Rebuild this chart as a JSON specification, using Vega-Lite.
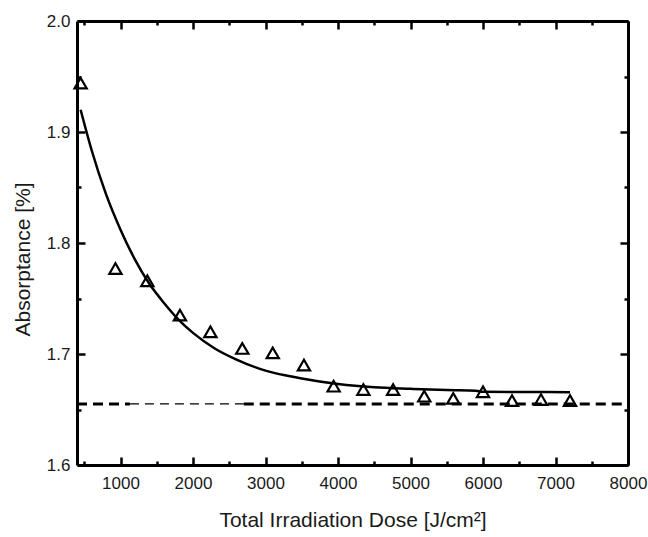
{
  "$schema": "https://vega.github.io/schema/vega-lite/v6.json",
  "width": 551,
  "height": 444,
  "autosize": {"type": "none"},
  "padding": {"left": 77, "top": 21, "right": 20, "bottom": 72},
  "background": "white",
  "config": {
    "view": {"stroke": null},
    "font": "Liberation Sans",
    "axis": {"grid": false, "domainColor": "black", "domainWidth": 3, "tickColor": "black", "tickWidth": 2.5, "labelColor": "#1a1a1a", "titleColor": "#1a1a1a", "labelFont": "Liberation Sans", "titleFont": "Liberation Sans", "labelFontSize": 17, "titleFontSize": 21, "titleFontWeight": "normal"}
  },
  "datasets": {
    "meas": [
      {"dose": 450, "abs": 1.944},
      {"dose": 930, "abs": 1.777},
      {"dose": 1370, "abs": 1.766},
      {"dose": 1820, "abs": 1.735},
      {"dose": 2240, "abs": 1.720},
      {"dose": 2680, "abs": 1.705},
      {"dose": 3100, "abs": 1.701},
      {"dose": 3530, "abs": 1.690},
      {"dose": 3940, "abs": 1.671},
      {"dose": 4350, "abs": 1.668},
      {"dose": 4760, "abs": 1.668},
      {"dose": 5190, "abs": 1.662},
      {"dose": 5590, "abs": 1.660},
      {"dose": 6000, "abs": 1.666},
      {"dose": 6400, "abs": 1.658},
      {"dose": 6800, "abs": 1.659},
      {"dose": 7200, "abs": 1.658}
    ],
    "fit": [
      {"dose": 450, "abs": 1.920},
      {"dose": 600, "abs": 1.884},
      {"dose": 800, "abs": 1.844},
      {"dose": 1000, "abs": 1.812},
      {"dose": 1200, "abs": 1.785},
      {"dose": 1400, "abs": 1.763},
      {"dose": 1600, "abs": 1.746},
      {"dose": 1800, "abs": 1.731},
      {"dose": 2000, "abs": 1.719},
      {"dose": 2300, "abs": 1.705},
      {"dose": 2600, "abs": 1.695},
      {"dose": 3000, "abs": 1.685},
      {"dose": 3500, "abs": 1.678},
      {"dose": 4000, "abs": 1.673},
      {"dose": 4500, "abs": 1.670},
      {"dose": 5000, "abs": 1.6686},
      {"dose": 5500, "abs": 1.6675},
      {"dose": 5900, "abs": 1.667},
      {"dose": 6000, "abs": 1.666},
      {"dose": 6500, "abs": 1.6658},
      {"dose": 7200, "abs": 1.6656}
    ],
    "base": [
      {"from": 400, "to": 1130, "abs": 1.655, "kind": "thick"},
      {"from": 1130, "to": 2700, "abs": 1.655, "kind": "thin"},
      {"from": 2700, "to": 8000, "abs": 1.655, "kind": "thick"}
    ]
  },
  "resolve": {"axis": {"x": "independent", "y": "independent"}},
  "layer": [
    {
      "data": {"name": "meas"},
      "mark": {"type": "point", "shape": "triangle-up", "filled": false, "stroke": "black", "strokeWidth": 2.2, "size": 150, "opacity": 1},
      "encoding": {
        "x": {"field": "dose", "type": "quantitative", "scale": {"domain": [400, 8000], "nice": false, "zero": false},
          "axis": {"orient": "bottom", "title": "Total Irradiation Dose [J/cm²]", "values": [500,1000,1500,2000,2500,3000,3500,4000,4500,5000,5500,6000,6500,7000,7500,8000],
            "labelExpr": "datum.value % 1000 === 0 ? datum.label : ''", "format": "d",
            "tickSize": {"condition": {"test": "datum.value % 1000 === 0", "value": -8}, "value": -4},
            "labelPadding": 18, "titlePadding": 14, "labelFlush": false, "labelOverlap": false}},
        "y": {"field": "abs", "type": "quantitative", "scale": {"domain": [1.6, 2.0], "nice": false, "zero": false},
          "axis": {"orient": "left", "title": "Absorptance [%]", "values": [1.6,1.65,1.7,1.75,1.8,1.85,1.9,1.95,2.0],
            "labelExpr": "abs(datum.value*10 - round(datum.value*10)) < 0.001 ? format(datum.value, '.1f') : ''",
            "tickSize": {"condition": {"test": "abs(datum.value*10 - round(datum.value*10)) < 0.001", "value": -8}, "value": -4},
            "labelPadding": 15, "labelFlush": false, "labelOverlap": false, "titleAngle": -90, "titleX": -54, "titleY": 238, "titleAlign": "center", "titleBaseline": "middle"}}
      }
    },
    {
      "data": {"name": "fit"},
      "mark": {"type": "line", "color": "black", "strokeWidth": 2.5, "interpolate": "monotone"},
      "encoding": {
        "x": {"field": "dose", "type": "quantitative",
          "axis": {"orient": "top", "title": null, "labels": false, "values": [500,1000,1500,2000,2500,3000,3500,4000,4500,5000,5500,6000,6500,7000,7500,8000],
            "tickSize": {"condition": {"test": "datum.value % 1000 === 0", "value": -8}, "value": -4}}},
        "y": {"field": "abs", "type": "quantitative",
          "axis": {"orient": "right", "title": null, "labels": false, "values": [1.6,1.65,1.7,1.75,1.8,1.85,1.9,1.95,2.0],
            "tickSize": {"condition": {"test": "abs(datum.value*10 - round(datum.value*10)) < 0.001", "value": -8}, "value": -4}}}
      }
    },
    {
      "data": {"name": "base"},
      "transform": [{"filter": "datum.kind === 'thick'"}],
      "mark": {"type": "rule", "color": "black", "strokeWidth": 3, "strokeDash": [10, 6]},
      "encoding": {
        "x": {"field": "from", "type": "quantitative", "axis": null},
        "x2": {"field": "to"},
        "y": {"field": "abs", "type": "quantitative", "axis": null}
      }
    },
    {
      "data": {"name": "base"},
      "transform": [{"filter": "datum.kind === 'thin'"}],
      "mark": {"type": "rule", "color": "black", "strokeWidth": 1.3, "strokeDash": [9, 6]},
      "encoding": {
        "x": {"field": "from", "type": "quantitative", "axis": null},
        "x2": {"field": "to"},
        "y": {"field": "abs", "type": "quantitative", "axis": null}
      }
    }
  ]
}
